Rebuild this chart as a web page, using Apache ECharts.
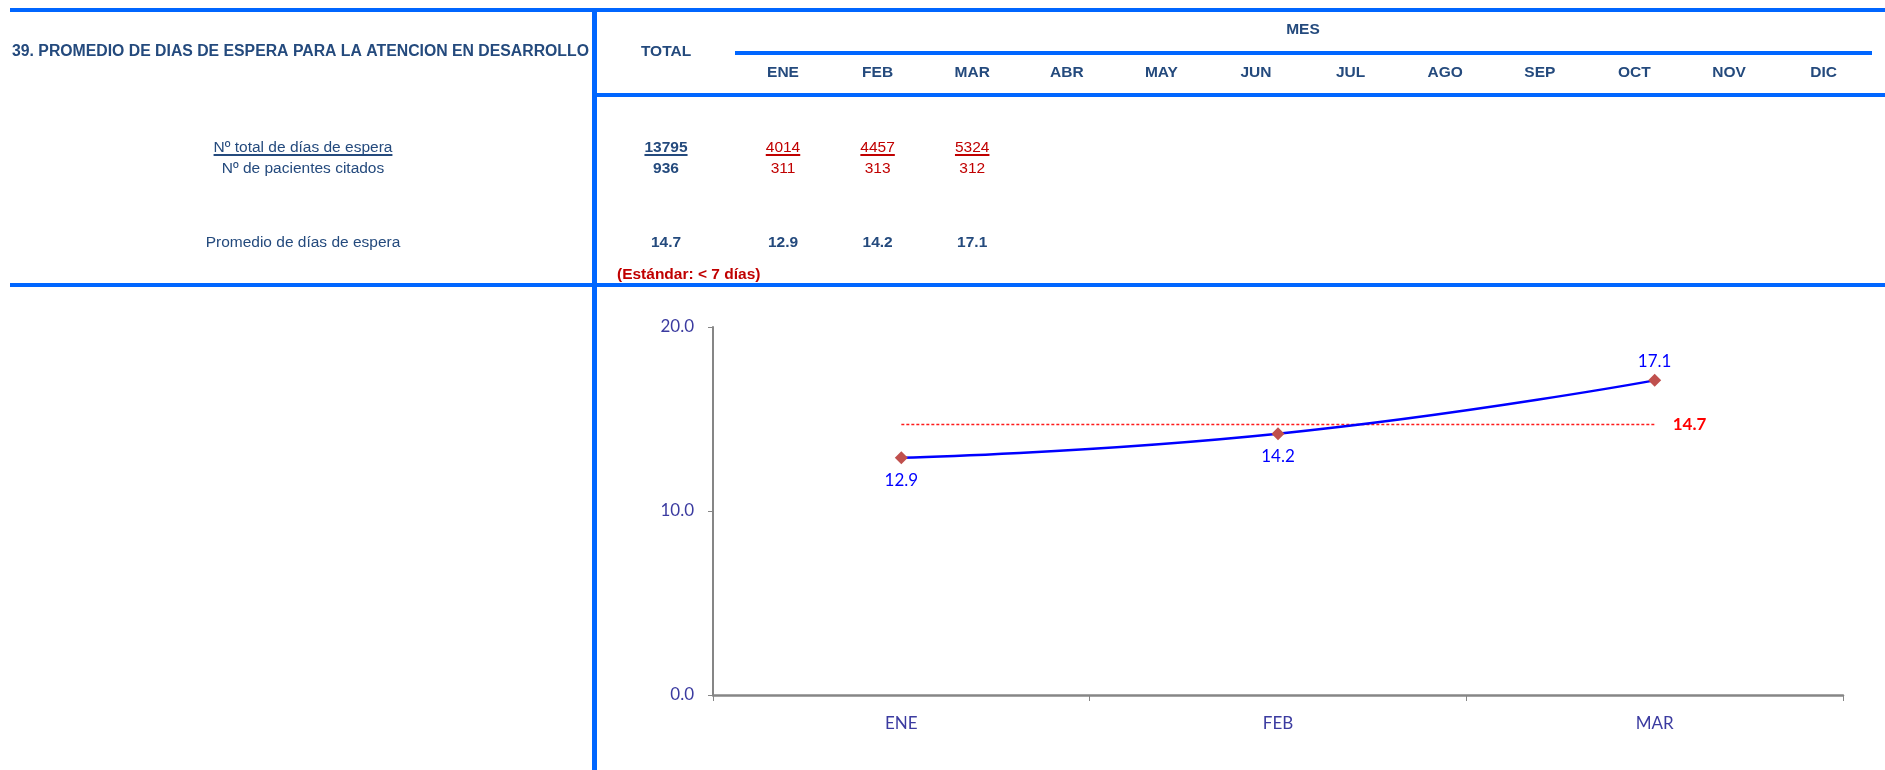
<!DOCTYPE html>
<html>
<head>
<meta charset="utf-8">
<script src="https://cdn.jsdelivr.net/npm/echarts@6/dist/echarts.min.js"></script>
<style>
  html, body { margin: 0; padding: 0; background: #ffffff; }
  #chart { width: 1885px; height: 770px; }
</style>
</head>
<body>
<div id="chart"></div>
<script>
// ---- data ----
const title = '39. PROMEDIO DE DIAS DE ESPERA PARA LA ATENCION EN DESARROLLO';
const monthHeaders = ['ENE', 'FEB', 'MAR', 'ABR', 'MAY', 'JUN', 'JUL', 'AGO', 'SEP', 'OCT', 'NOV', 'DIC'];
const rowLabels = ['Nº total de días de espera', 'Nº de pacientes citados', 'Promedio de días de espera'];
const waitDays = [4014, 4457, 5324];
const patients = [311, 313, 312];
const avgDays = [12.9, 14.2, 17.1];
const totalWaitDays = 13795;
const totalPatients = 936;
const totalAvg = 14.7;
const standardNote = '(Estándar: < 7 días)';
const chartCategories = ['ENE', 'FEB', 'MAR'];
const avgLine = [14.7, 14.7, 14.7];
const yMin = 0, yMax = 20, yInterval = 10;

// ---- styles ----
const BLUE = '#0066FF';
const NAVY = '#244A7D';
const RED = '#C00000';
const TFONT = '"Liberation Sans", Arial, sans-serif';
const CFONT = 'Lato, "Noto Sans", sans-serif';
const FS = 15.5;

const measure = (() => {
  const ctx = document.createElement('canvas').getContext('2d');
  return (text, font) => { ctx.font = font; return ctx.measureText(text).width; };
})();

const graphics = [];
function rect(x, y, w, h) {
  graphics.push({ type: 'rect', silent: true, shape: { x, y, width: w, height: h }, style: { fill: BLUE } });
}
function txt(text, x, y, opts) {
  opts = opts || {};
  const weight = opts.bold ? 'bold ' : '';
  const font = weight + (opts.size || FS) + 'px ' + TFONT;
  const align = opts.align || 'center';
  graphics.push({
    type: 'text', silent: true,
    style: {
      text: String(text), x, y, font, fill: opts.color || NAVY,
      align, textAlign: align, verticalAlign: 'middle', textVerticalAlign: 'middle'
    }
  });
  if (opts.underline) {
    const w = measure(String(text), font);
    const x1 = align === 'center' ? x - w / 2 : x;
    graphics.push({
      type: 'rect', silent: true,
      shape: { x: x1, y: y + 6, width: w, height: 2 },
      style: { fill: opts.color || NAVY }
    });
  }
}

// blue rules
rect(10, 8, 1875, 4);
rect(592, 8, 5, 762);
rect(735, 51, 1137, 4);
rect(597, 93, 1288, 4);
rect(10, 283, 1875, 4);

// header
txt(title, 12, 52, { bold: true, align: 'left', size: 15.8 });
txt('TOTAL', 666, 52, { bold: true });
txt('MES', 1303, 30, { bold: true });
const colX = i => 783 + i * 94.6;
monthHeaders.forEach((m, i) => txt(m, colX(i), 73, { bold: true }));

// rows
const rowY = [148, 169, 243];
const labelX = 303;
txt(rowLabels[0], labelX, rowY[0], { underline: true });
txt(rowLabels[1], labelX, rowY[1]);
txt(rowLabels[2], labelX, rowY[2]);
txt(totalWaitDays, 666, rowY[0], { bold: true, underline: true });
txt(totalPatients, 666, rowY[1], { bold: true });
txt(totalAvg.toFixed(1), 666, rowY[2], { bold: true });
waitDays.forEach((v, i) => txt(v, colX(i), rowY[0], { color: RED, underline: true }));
patients.forEach((v, i) => txt(v, colX(i), rowY[1], { color: RED }));
avgDays.forEach((v, i) => txt(v.toFixed(1), colX(i), rowY[2], { bold: true }));
txt(standardNote, 617, 275, { bold: true, color: RED, align: 'left' });

// label placement per point (style only)
const labelPos = ['bottom', 'bottom', 'top'];
const labelDist = [8, 8, 4];

const chart = echarts.init(document.getElementById('chart'), null, { renderer: 'canvas' });
chart.setOption({
  animation: false,
  backgroundColor: '#ffffff',
  graphic: graphics,
  grid: { left: 713, right: 42, top: 327, bottom: 75, containLabel: false },
  xAxis: {
    type: 'category',
    data: chartCategories,
    boundaryGap: true,
    axisLine: { show: true, lineStyle: { color: '#868686', width: 2.5 } },
    axisTick: { show: true, length: 6, lineStyle: { color: '#868686', width: 1 } },
    axisLabel: { color: '#3B3BA0', fontFamily: CFONT, fontSize: 17, margin: 20 },
    splitLine: { show: false }
  },
  yAxis: {
    type: 'value',
    min: yMin, max: yMax, interval: yInterval,
    axisLine: { show: true, lineStyle: { color: '#868686', width: 2 } },
    axisTick: { show: true, length: 5, lineStyle: { color: '#868686', width: 1 } },
    axisLabel: { color: '#3B3BA0', fontFamily: CFONT, fontSize: 17, margin: 19,
      formatter: v => v.toFixed(1) },
    splitLine: { show: false }
  },
  series: [
    {
      name: 'Promedio', type: 'line',
      data: avgLine,
      symbol: 'none',
      lineStyle: { color: '#FF1A1A', width: 1.5, type: [3, 2] },
      endLabel: {
        show: true, formatter: () => totalAvg.toFixed(1), color: '#FF0000',
        fontFamily: CFONT, fontSize: 17, fontWeight: 'bold', distance: 18
      },
      z: 1
    },
    {
      name: 'Promedio de días de espera', type: 'line',
      data: avgDays.map((v, i) => ({
        value: v,
        label: { position: labelPos[i], distance: labelDist[i] }
      })),
      smooth: true,
      symbol: 'diamond', symbolSize: 13,
      itemStyle: { color: '#C0504D' },
      lineStyle: { color: '#0000FF', width: 2.5 },
      label: {
        show: true, color: '#0000FF', fontFamily: CFONT, fontSize: 17,
        formatter: p => p.value.toFixed(1)
      },
      z: 3
    }
  ]
});
</script>
</body>
</html>
